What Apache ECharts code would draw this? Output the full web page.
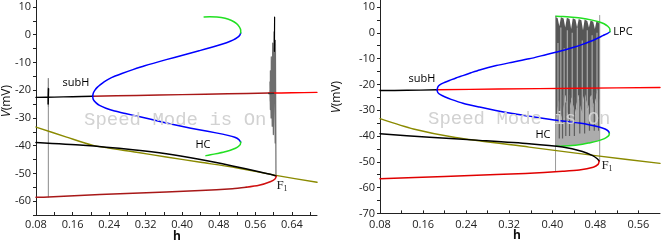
<!DOCTYPE html>
<html>
<head>
<meta charset="utf-8">
<script src="https://cdn.jsdelivr.net/npm/echarts@6/dist/echarts.min.js"></script>
<style>html,body{margin:0;padding:0;background:#fff}#c{width:661px;height:243px}</style>
</head>
<body>
<div id="c"></div>
<script>
// ---------- tick labels ----------
const A_xTicks = ['0.08','0.16','0.24','0.32','0.40','0.48','0.56','0.64'];
const B_xTicks = ['0.08','0.16','0.24','0.32','0.40','0.48','0.56'];
const A_yTicks = [10,0,-10,-20,-30,-40,-50,-60];
const B_yTicks = [10,0,-10,-20,-30,-40,-50,-60,-70];

// ---------- left panel (A) : [h, V] ----------
const A_upperBlack = [[0.08,-22.6],[0.12,-22.5],[0.16,-22.35],[0.204,-22.2]];
const A_upperRedDark = [[0.204,-22.2],[0.30,-21.9],[0.40,-21.6],[0.50,-21.3],[0.59,-21.05]];
const A_upperRed = [[0.59,-21.05],[0.64,-20.95],[0.695,-20.8]];
const A_blueUpper = [[0.204,-22.2],[0.2055,-21.0],[0.209,-20.0],[0.214,-19.0],[0.221,-18.0],[0.229,-17.0],[0.239,-16.0],[0.252,-15.0],[0.268,-14.0],[0.292,-12.6],[0.318,-11.2],[0.365,-9.0],[0.401,-7.4],[0.437,-5.8],[0.474,-4.1],[0.497,-2.9],[0.512,-1.9],[0.521,-1.0],[0.526,-0.2],[0.528,0.6]];
const A_greenTop = [[0.528,0.6],[0.528,1.6],[0.525,2.8],[0.519,4.0],[0.508,5.1],[0.494,5.9],[0.476,6.4],[0.460,6.5],[0.448,6.4]];
const A_blueLower = [[0.204,-22.2],[0.2055,-23.4],[0.211,-24.5],[0.219,-25.5],[0.233,-26.5],[0.252,-27.5],[0.278,-28.5],[0.305,-29.5],[0.329,-30.4],[0.365,-31.8],[0.401,-33.1],[0.437,-34.3],[0.474,-35.4],[0.500,-36.3],[0.515,-37.0],[0.524,-37.8],[0.528,-38.7]];
const A_greenBottom = [[0.528,-38.7],[0.527,-39.6],[0.521,-40.5],[0.511,-41.3],[0.496,-42.1],[0.477,-42.8],[0.462,-43.3],[0.452,-43.6]];
const A_lowerBlack = [[0.08,-38.9],[0.183,-39.9],[0.292,-41.5],[0.365,-42.9],[0.437,-44.9],[0.510,-47.3],[0.568,-49.4],[0.597,-50.5],[0.606,-51.0]];
const A_lowerRed = [[0.606,-51.0],[0.603,-52.0],[0.594,-52.9],[0.568,-54.3],[0.54,-55.0]];
const A_lowerRedDark = [[0.54,-55.0],[0.51,-55.5],[0.44,-56.2],[0.365,-56.7],[0.22,-57.6],[0.107,-58.5],[0.08,-58.6]];
const A_nullcline = [[0.08,-33.3],[0.147,-36.9],[0.205,-39.9],[0.30,-42.4],[0.365,-44.1],[0.44,-46.0],[0.51,-47.7],[0.605,-50.7],[0.695,-53.2]];
const A_trajLeft = [[0.107,-58.5],[0.107,-15.7],[0.1072,-26],[0.1068,-19],[0.107,-24],[0.107,-21]];
const A_trajLeftCore = [[0.1066,-25],[0.1074,-19.5]];
const A_trajRight = [[0.592,-20],[0.5925,-24],[0.592,-17],[0.593,-27],[0.593,-13],[0.5945,-30],[0.595,-8],[0.597,-33],[0.598,-3],[0.5995,-36],[0.601,1],[0.6035,-39],[0.604,-2],[0.605,-42],[0.6052,-51]];
const A_trajRightTip = [[0.6018,-6],[0.6022,6.3]];
const A_trajRightCore = [[0.5895,-21.2],[0.6,-21.1]];

// ---------- right panel (B) : [h, V] ----------
const B_upperBlack = [[0.08,-22.4],[0.13,-22.3],[0.186,-22.1]];
const B_upperRed = [[0.186,-22.1],[0.30,-21.8],[0.45,-21.5],[0.60,-21.2]];
const B_blueUpper = [[0.186,-22.1],[0.1875,-21.0],[0.191,-20.2],[0.198,-19.4],[0.209,-18.5],[0.221,-17.5],[0.234,-16.6],[0.249,-15.5],[0.265,-14.4],[0.296,-12.7],[0.326,-11.4],[0.357,-10.1],[0.388,-8.5],[0.419,-6.9],[0.440,-5.6],[0.456,-4.5],[0.470,-3.4],[0.482,-2.3],[0.494,-1.1],[0.502,-0.3],[0.507,0.4]];
const B_greenTop = [[0.507,0.4],[0.507,1.4],[0.503,2.5],[0.496,3.5],[0.486,4.3],[0.472,5.0],[0.455,5.6],[0.437,6.0],[0.420,6.3],[0.407,6.4]];
const B_blueLower = [[0.186,-22.1],[0.1875,-23.2],[0.193,-24.1],[0.201,-24.9],[0.212,-25.8],[0.234,-27.3],[0.265,-28.8],[0.295,-30.1],[0.326,-31.3],[0.357,-32.3],[0.388,-33.3],[0.419,-34.2],[0.450,-35.0],[0.470,-35.7],[0.487,-36.5],[0.498,-37.3],[0.504,-38.1],[0.506,-38.9]];
const B_greenBottom = [[0.506,-38.9],[0.505,-39.8],[0.500,-40.6],[0.493,-41.3],[0.483,-42.0],[0.470,-42.6],[0.456,-43.2],[0.430,-43.8],[0.407,-44.0]];
const B_lowerBlack = [[0.08,-39.1],[0.172,-40.5],[0.265,-41.7],[0.357,-43.0],[0.419,-44.3],[0.456,-46.0],[0.475,-47.6],[0.484,-48.9],[0.487,-49.7]];
const B_lowerRed = [[0.487,-49.7],[0.485,-51.0],[0.476,-52.1],[0.450,-53.2],[0.419,-53.7],[0.350,-54.5],[0.296,-54.9],[0.200,-55.7],[0.08,-56.6]];
const B_nullcline = [[0.08,-33.3],[0.142,-37.3],[0.220,-40.6],[0.357,-44.3],[0.480,-47.6],[0.60,-50.6]];
const B_edgeLeft = [[0.406,-53.4],[0.406,6.5]];
const B_edgeRight = [[0.488,-49.6],[0.488,6.7]];
const B_burstTop = [[0.406,6.2],[0.410,5.6],[0.413,2.5],[0.416,6.0],[0.421,5.5],[0.424,2.0],[0.427,5.8],[0.432,5.3],[0.435,1.5],[0.438,5.6],[0.443,5.1],[0.446,2.0],[0.449,5.3],[0.454,4.9],[0.457,1.0],[0.460,5.1],[0.465,4.6],[0.468,2.0],[0.471,4.8],[0.476,4.3],[0.479,1.5],[0.482,4.5],[0.486,4.0],[0.488,4.2]];
const B_burstMid = [[0.406,-36],[0.412,-26],[0.418,-34],[0.424,-24],[0.430,-33],[0.436,-25],[0.442,-32],[0.448,-24],[0.454,-31],[0.460,-23],[0.466,-30],[0.472,-24],[0.478,-29],[0.484,-22],[0.488,-27]];
const B_burstBottom = [[0.406,-44.0],[0.430,-43.8],[0.456,-43.2],[0.475,-42.4],[0.488,-41.6]];
// streaks: [h, V top, V bottom]
const B_streakLight = [[0.4105,-4,-34],[0.4158,2,-32],[0.422,-6,-33],[0.428,1,-31],[0.437,0,-33],[0.4465,2,-30],[0.4557,-3,-31],[0.465,1,-29],[0.474,-1,-29],[0.483,0,-27]];
const B_streakDark = [[0.413,-26,-41],[0.419,-24,-41],[0.425,-27,-40],[0.432,-24,-40],[0.441,-25,-40],[0.451,-24,-39],[0.460,-22,-39],[0.469,-25,-38],[0.478,-23,-38],[0.486,-22,-38]];

// ---------- build ----------
function ln(data, color, width, idx, smooth, z) {
  return {type:'line', data:data, xAxisIndex:idx, yAxisIndex:idx, symbol:'none',
    smooth: smooth ? 0.25 : false, lineStyle:{color:color, width:width, cap:'round', join:'round'}, z: z||2, silent:true};
}
const RED='#ff0000', DRED='#a81818', BLUE='#0000ff', GREEN='#22e022', OLIVE='#8a8a00', BLACK='#000000';

const burstPolygon = {
  type:'custom', xAxisIndex:1, yAxisIndex:1, data:[[0.45,-20]], z:1, silent:true, clip:true,
  renderItem:function(params, api){
    const c = function(p){return api.coord(p);};
    const top = B_burstTop.map(c), mid = B_burstMid.map(c), bot = B_burstBottom.map(c);
    const kids = [
      {type:'polygon', shape:{points: top.concat(mid.slice().reverse())}, style:{fill:'#565656'}},
      {type:'polygon', shape:{points: mid.concat(bot.slice().reverse())}, style:{fill:'#acacac'}}
    ];
    B_streakLight.forEach(function(s){
      const a = c([s[0], s[1]]), b = c([s[0], s[2]]);
      kids.push({type:'line', shape:{x1:a[0], y1:a[1], x2:b[0], y2:b[1]}, style:{stroke:'#a2a2a2', lineWidth:1.3}});
    });
    B_streakDark.forEach(function(s){
      const a = c([s[0], s[1]]), b = c([s[0], s[2]]);
      kids.push({type:'line', shape:{x1:a[0], y1:a[1], x2:b[0], y2:b[1]}, style:{stroke:'#5e5e5e', lineWidth:1.2}});
    });
    return {type:'group', children:kids};
  }
};

const series = [
  // A trajectories
  ln(A_trajLeft,'#8a8a8a',1,0,false,1),
  ln(A_trajLeftCore,BLACK,1.5,0,false,3),
  ln(A_trajRight,'#6e6e6e',1.2,0,false,1),
  ln(A_trajRightTip,BLACK,1.2,0,false,1),
  // A curves
  ln(A_nullcline,OLIVE,1.4,0,true),
  ln(A_upperBlack,BLACK,1.4,0,true),
  ln(A_upperRedDark,DRED,1.4,0,true),
  ln(A_upperRed,RED,1.4,0,true),
  ln(A_trajRightCore,'#333',1.5,0,false,3),
  ln(A_blueUpper,BLUE,1.5,0,true),
  ln(A_blueLower,BLUE,1.5,0,true),
  ln(A_greenTop,GREEN,1.5,0,true),
  ln(A_greenBottom,GREEN,1.5,0,true),
  ln(A_lowerBlack,BLACK,1.5,0,true),
  ln(A_lowerRed,'#d01010',1.5,0,true),
  ln(A_lowerRedDark,DRED,1.5,0,true),
  // B burst
  burstPolygon,
  ln(B_edgeLeft,'#9a9a9a',1,1,false,1),
  ln(B_edgeRight,'#9a9a9a',1,1,false,1),
  // B curves
  ln(B_nullcline,OLIVE,1.4,1,true),
  ln(B_upperBlack,BLACK,1.4,1,true),
  ln(B_upperRed,RED,1.4,1,true),
  ln(B_blueUpper,BLUE,1.5,1,true),
  ln(B_blueLower,BLUE,1.5,1,true),
  ln(B_greenTop,GREEN,1.5,1,true),
  ln(B_greenBottom,GREEN,1.5,1,true),
  ln(B_lowerBlack,BLACK,1.5,1,true),
  ln(B_lowerRed,'#e00000',1.5,1,true)
];

const FONT = 'Open Sans';
function xAx(idx, max, ticks) {
  return {type:'value', gridIndex:idx, min:0.08, max:max, interval:0.04,
    axisLine:{show:true, onZero:false, lineStyle:{color:'#222', width:1}},
    axisTick:{show:true, inside:true, length:3, lineStyle:{color:'#222'}},
    axisLabel:{fontFamily:FONT, fontSize:11, color:'#222', margin: idx===0 ? 4 : 6,
      showMaxLabel:false,
      formatter:function(v){ const s=v.toFixed(2); return ticks.indexOf(s)>=0 ? s : ''; }},
    splitLine:{show:false}};
}
function yAx(idx, min, max, ticks) {
  return {type:'value', gridIndex:idx, min:min, max:max, interval:5,
    axisLine:{show:true, lineStyle:{color:'#222', width:1}},
    axisTick:{show:true, inside:false, length:3, lineStyle:{color:'#222'}},
    axisLabel:{fontFamily:FONT, fontSize:11, color:'#222', margin:5, showMaxLabel:false,
      formatter:function(v){ return ticks.indexOf(Math.round(v))>=0 && Math.abs(v-Math.round(v))<1e-6 ? String(Math.round(v)) : ''; }},
    splitLine:{show:false}};
}

const vName = function(x, y){
  return {type:'text', x:x, y:y, rotation:Math.PI/2, z:60,
    style:{text:'{i|V}(mV)', fontFamily:FONT, fontSize:12, fill:'#111', align:'center', verticalAlign:'middle',
      rich:{i:{fontFamily:FONT, fontStyle:'italic', fontSize:12, fill:'#111'}}}};
};
const hName = function(x, y){
  return {type:'text', x:x, y:y, z:60,
    style:{text:'h', fontFamily:FONT, fontWeight:'bold', fontSize:12, fill:'#111', align:'center', verticalAlign:'middle'}};
};
const fLabel = function(x, y){
  return {type:'text', x:x, y:y, z:60, style:{text:'{f|F}{s|1}', align:'center', verticalAlign:'middle',
    rich:{f:{fontFamily:'Liberation Serif', fontSize:13, fill:'#222'}, s:{fontFamily:'Liberation Serif', fontSize:8, fill:'#222', verticalAlign:'bottom', padding:[6,0,0,0]}}}};
};
const txt = function(t, x, y){
  return {type:'text', x:x, y:y, z:60, style:{text:t, fontFamily:FONT, fontSize:11, fill:'#000', align:'center', verticalAlign:'middle'}};
};

const chart = echarts.init(document.getElementById('c'), null, {renderer:'canvas'});
const wm = {fontFamily:'Liberation Mono', fontSize:19, fill:'#d2d2d2'};
chart.setOption({
  animation:false,
  backgroundColor:'#ffffff',
  grid:[
    {left:36, right:661-317, top:0, bottom:243-215},
    {left:380, right:1, top:0, bottom:243-213.4}
  ],
  xAxis:[xAx(0,0.695,A_xTicks), xAx(1,0.60,B_xTicks)],
  yAxis:[yAx(0,-65,12.5,A_yTicks), yAx(1,-70,12.7,B_yTicks)],
  series:series,
  graphic:[
    {type:'text', left:84, top:110, z:50, style:Object.assign({text:'Speed Mode is On'}, wm)},
    {type:'text', left:428, top:109, z:50, style:Object.assign({text:'Speed Mode is On'}, wm)},
    vName(7, 101), vName(337, 97),
    hName(177, 237), hName(517, 236),
    txt('subH', 76, 83), txt('HC', 203, 145), fLabel(282, 186),
    txt('subH', 422, 79), txt('HC', 543, 135), txt('LPC', 623, 32), fLabel(607, 166)
  ]
});
</script>
</body>
</html>
